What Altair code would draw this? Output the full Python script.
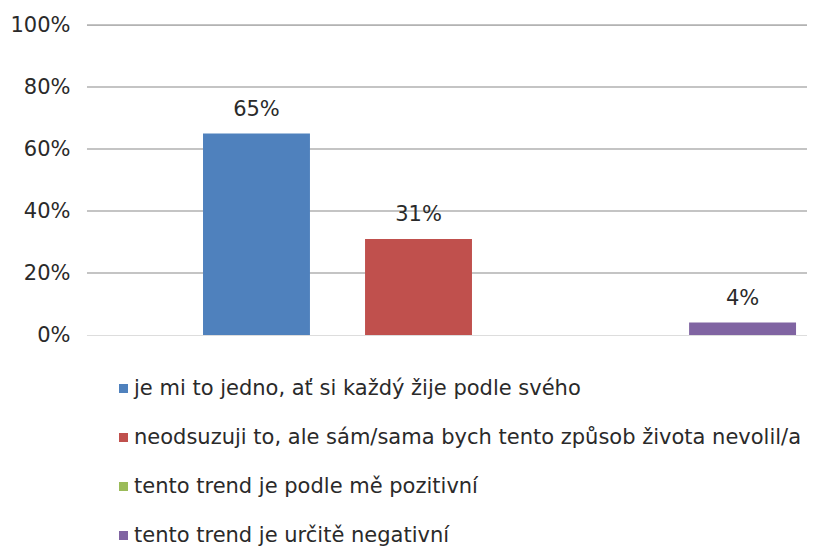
import altair as alt
import pandas as pd

series = [
    "je mi to jedno, ať si každý žije podle svého",
    "neodsuzuji to, ale sám/sama bych tento způsob života nevolil/a",
    "tento trend je podle mě pozitivní",
    "tento trend je určitě negativní",
]
values = [65, 31, 0, 4]
colors = ["#4F81BD", "#C0504D", "#9BBB59", "#8064A2"]
y_ticks = [0, 20, 40, 60, 80, 100]

df = pd.DataFrame({"series": series, "value": values})
df["label"] = [f"{v}%" if v > 0 else "" for v in values]
grid_df = pd.DataFrame({"tick": [t for t in y_ticks if t > 0]})

FONT = "DejaVu Sans"

x_enc = alt.X(
    "series:N",
    sort=series,
    axis=None,
    scale=alt.Scale(paddingInner=0.34, paddingOuter=0.398, align=0.915),
)
y_scale = alt.Scale(domain=[0, 100], nice=False)

y_axis = alt.Axis(
    values=y_ticks,
    labelExpr="datum.value + '%'",
    title=None,
    domain=False,
    ticks=False,
    grid=False,
    labelPadding=15,
    labelFont=FONT,
    labelFontSize=21,
    labelColor="#2a2a2a",
)

grid = alt.Chart(grid_df).mark_rule(color="#8a8a8a", strokeWidth=1.2).encode(
    y=alt.Y("tick:Q", scale=y_scale, axis=y_axis),
)

# white cover over the left edge of the plot area
edge = alt.Chart(grid_df).mark_rule(color="white", strokeWidth=3).encode(
    x=alt.value(0), y=alt.value(-1), y2=alt.value(312)
)

bars = alt.Chart(df).mark_bar().encode(
    x=x_enc,
    y=alt.Y("value:Q", scale=y_scale, axis=y_axis),
    color=alt.Color(
        "series:N",
        sort=series,
        scale=alt.Scale(domain=series, range=colors),
        legend=alt.Legend(
            title=None,
            orient="none",
            legendX=28,
            legendY=353,
            direction="vertical",
            symbolType="square",
            symbolSize=81,
            symbolStrokeWidth=0,
            labelFont=FONT,
            labelFontSize=21,
            labelColor="#2a2a2a",
            labelLimit=800,
            rowPadding=27,
            labelOffset=0,
        ),
    ),
)

texts = alt.Chart(df).mark_text(
    baseline="bottom", dy=-14, font=FONT, fontSize=21, color="#2a2a2a"
).encode(
    x=x_enc,
    y=alt.Y("value:Q", scale=y_scale, axis=y_axis),
    text="label:N",
)

chart = (
    alt.layer(grid, bars, texts, edge)
    .properties(
        width=722,
        height=310,
        autosize=alt.AutoSizeParams(type="none"),
        padding={"left": 77, "top": 17, "right": 0, "bottom": 211},
    )
    .configure_view(strokeOpacity=0, strokeWidth=0, stroke="transparent")
    .configure_axis(domain=False, grid=False, ticks=False)
    .configure(background="white")
)

chart.save("out.html", embed_options={"renderer": "svg", "actions": False})
